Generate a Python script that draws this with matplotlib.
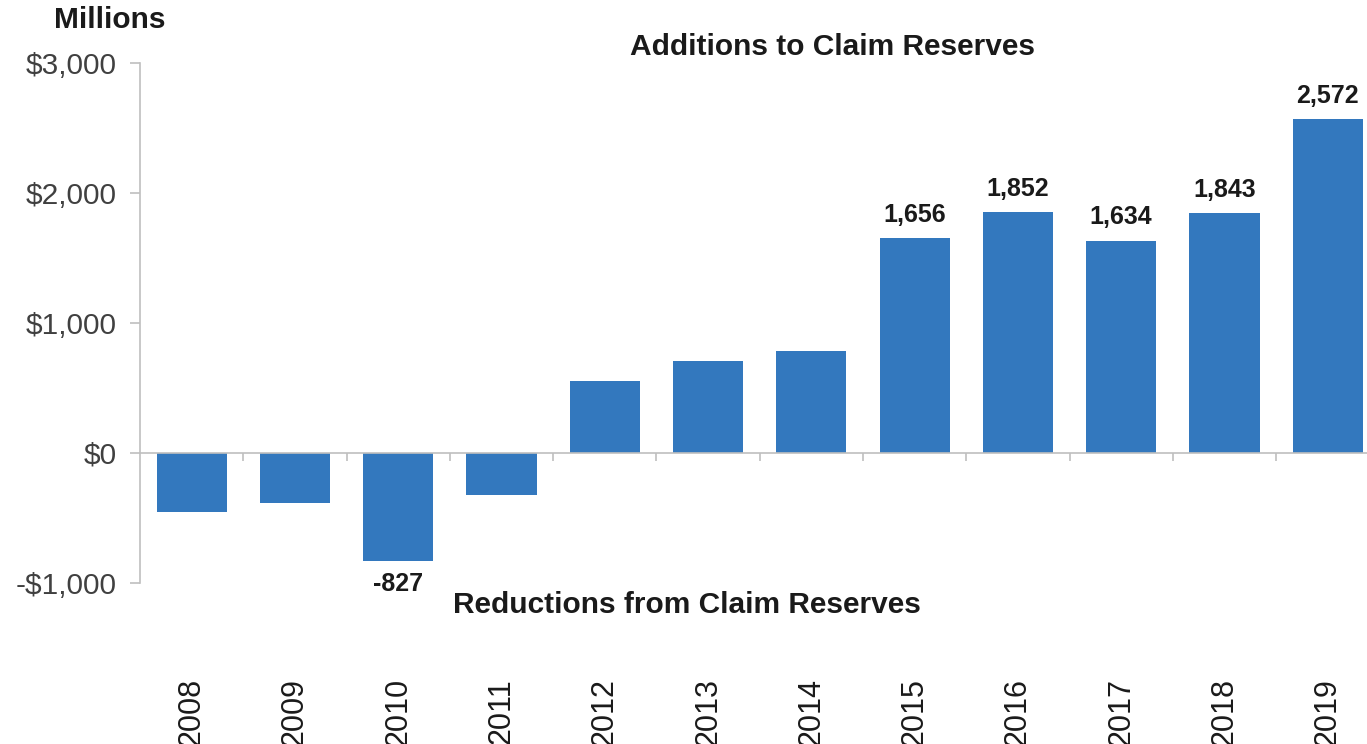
import numpy as np
import matplotlib.pyplot as plt

# Dados
anos = ['2008', '2009', '2010', '2011', '2012', '2013', '2014',
        '2015', '2016', '2017', '2018', '2019']
valores = [-454, -385, -827, -320, 554, 708, 785, 1656, 1852, 1634, 1843, 2572]
# rótulos mostrados só em algumas barras
rotulos = [None, None, '-827', None, None, None, None,
           '1,656', '1,852', '1,634', '1,843', '2,572']

plt.rcParams['font.family'] = ['Liberation Sans', 'DejaVu Sans']

fig = plt.figure(figsize=(13.67, 7.44), dpi=100)
ax = fig.add_axes([140 / 1367, 1 - 583 / 744, 1 - 140 / 1367, (583 - 63) / 744])

x = np.arange(len(anos))
ax.bar(x, valores, width=0.68, color='#3378BE', zorder=2)

ax.set_xlim(-0.5, 11.38)
ax.set_ylim(-1000, 3000)
ax.set_yticks([-1000, 0, 1000, 2000, 3000])
ax.set_yticklabels(['-$1,000', '$0', '$1,000', '$2,000', '$3,000'])
ax.tick_params(axis='y', labelsize=21.5, colors='#BFBFBF', labelcolor='#404040',
               length=7, width=1.2, pad=10)

# eixo x na linha do zero
for s in ['top', 'right']:
    ax.spines[s].set_visible(False)
ax.spines['left'].set_color('#BFBFBF')
ax.spines['left'].set_linewidth(1.2)
ax.spines['bottom'].set_position(('data', 0))
ax.spines['bottom'].set_color('#BFBFBF')
ax.spines['bottom'].set_linewidth(1.2)
ax.spines['bottom'].set_zorder(3)

ax.set_xticks(x)
ax.set_xticklabels(anos, rotation=90, va='top')
ax.tick_params(axis='x', which='major', length=0, pad=162, labelsize=22,
               labelcolor='#1a1a1a')
ax.set_xticks(x[:-1] + 0.5, minor=True)
ax.tick_params(axis='x', which='minor', length=6, width=1.2, color='#BFBFBF')

for xi, v, r in zip(x, valores, rotulos):
    if r is None:
        continue
    if v > 0:
        ax.annotate(r, (xi, v), xytext=(0, 8), textcoords='offset points',
                    ha='center', va='bottom', fontsize=18, fontweight='bold',
                    color='#1a1a1a')
    else:
        ax.annotate(r, (xi, v), xytext=(0, -8), textcoords='offset points',
                    ha='center', va='top', fontsize=18, fontweight='bold',
                    color='#1a1a1a')

fig.text(832 / 1367, 1 - 47 / 744, 'Additions to Claim Reserves', ha='center',
         va='center', fontsize=21.5, fontweight='bold', color='#1a1a1a')
fig.text(687 / 1367, 1 - 605 / 744, 'Reductions from Claim Reserves', ha='center',
         va='center', fontsize=21.5, fontweight='bold', color='#1a1a1a')
fig.text(110 / 1367, 1 - 20 / 744, 'Millions', ha='center', va='center',
         fontsize=21.5, fontweight='bold', color='#1a1a1a')

fig.savefig('out.png', dpi=100)
